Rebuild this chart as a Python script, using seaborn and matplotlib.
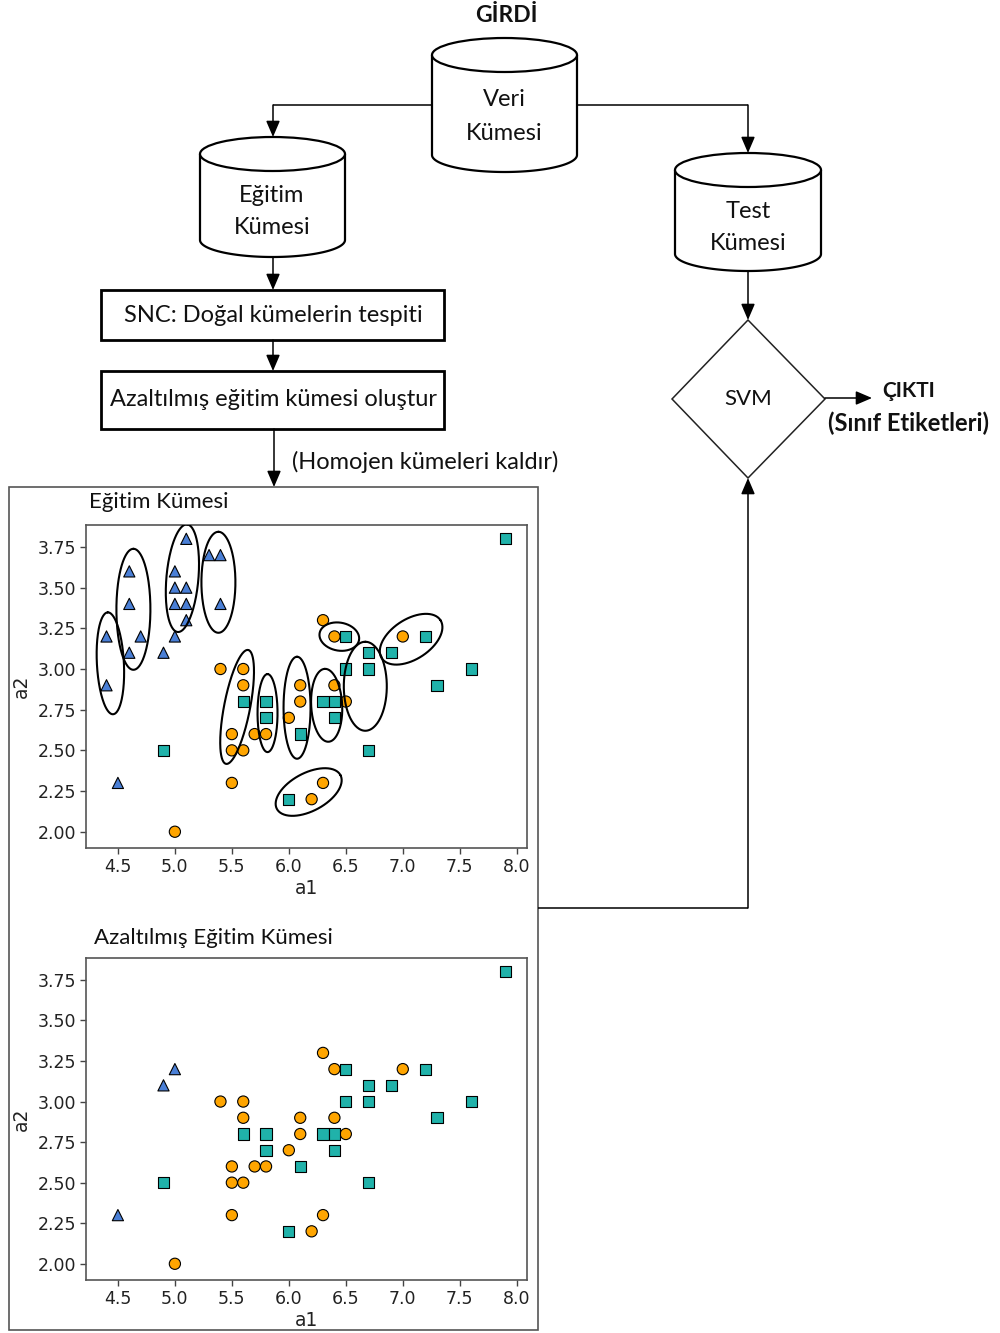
import numpy as np
import pandas as pd
import matplotlib
matplotlib.use("Agg")
import matplotlib.pyplot as plt
from matplotlib.patches import Ellipse, Rectangle, Polygon
from matplotlib.ticker import FormatStrFormatter
import seaborn as sns

# ---- training set (a1, a2) per class ----
setosa_a1 = [5.1, 5.3, 5.4, 5.4, 4.6, 4.6, 5.0, 5.0, 5.1, 5.0, 5.1, 5.1, 4.4, 4.7, 5.0, 4.6, 4.9, 4.4, 4.5]
setosa_a2 = [3.8, 3.7, 3.7, 3.4, 3.6, 3.4, 3.6, 3.5, 3.5, 3.4, 3.4, 3.3, 3.2, 3.2, 3.2, 3.1, 3.1, 2.9, 2.3]
# which setosa samples survive the removal of homogeneous clusters
setosa_kept = [False, False, False, False, False, False, False, False, False, False,
               False, False, False, False, True, False, True, False, True]

versicolor_a1 = [5.4, 5.6, 5.6, 6.1, 6.4, 6.1, 6.5, 6.0, 5.5, 5.7, 5.8, 5.5, 5.6, 5.5, 6.3, 6.2, 5.0, 6.3, 6.4, 7.0]
versicolor_a2 = [3.0, 3.0, 2.9, 2.9, 2.9, 2.8, 2.8, 2.7, 2.6, 2.6, 2.6, 2.5, 2.5, 2.3, 2.3, 2.2, 2.0, 3.3, 3.2, 3.2]

virginica_a1 = [7.9, 6.5, 7.2, 6.7, 6.9, 6.5, 6.7, 7.6, 7.3, 5.6, 5.8, 6.3, 6.4, 5.8, 6.4, 6.1, 4.9, 6.7, 6.0]
virginica_a2 = [3.8, 3.2, 3.2, 3.1, 3.1, 3.0, 3.0, 3.0, 2.9, 2.8, 2.8, 2.8, 2.8, 2.7, 2.7, 2.6, 2.5, 2.5, 2.2]

x_ticks = [4.5, 5.0, 5.5, 6.0, 6.5, 7.0, 7.5, 8.0]
y_ticks = [2.00, 2.25, 2.50, 2.75, 3.00, 3.25, 3.50, 3.75]

# natural clusters found by SNC: centre (a1, a2), long axis px, short axis px, tilt deg
clusters = [
    (4.434, 3.035, 102, 27, 93),
    (4.636, 3.367, 121, 34, 90),
    (5.066, 3.558, 108, 32, 85),
    (5.382, 3.533, 101, 34, 90),
    (5.546, 2.767, 116, 26, 79),
    (5.813, 2.729, 78, 20, 90),
    (6.072, 2.762, 102, 27, 90),
    (6.332, 2.777, 73, 31, 93),
    (6.671, 2.894, 89, 43, 90),
    (6.443, 3.199, 40, 28, -10),
    (7.073, 3.183, 70, 40, 33),
    (6.174, 2.244, 72, 38, 28),
]

PALETTE = {"setosa": "#4a7fd6", "versicolor": "#ffa500", "virginica": "#20b2aa"}
MARKERS = {"setosa": "^", "versicolor": "o", "virginica": "s"}

full = pd.concat([
    pd.DataFrame({"a1": setosa_a1, "a2": setosa_a2, "sinif": "setosa", "kept": setosa_kept}),
    pd.DataFrame({"a1": versicolor_a1, "a2": versicolor_a2, "sinif": "versicolor", "kept": True}),
    pd.DataFrame({"a1": virginica_a1, "a2": virginica_a2, "sinif": "virginica", "kept": True}),
], ignore_index=True)
reduced = full[full["kept"]]

sns.set_theme(style="white")
plt.rcParams["font.family"] = ["DejaVu Sans"]

W, H = 1000, 1333
fig = plt.figure(figsize=(W / 100, H / 100), dpi=100)
flow = fig.add_axes([0, 0, 1, 1])
flow.set_xlim(0, W)
flow.set_ylim(H, 0)
flow.axis("off")

LW = 1.6
FONT = ["Lato", "DejaVu Sans"]


def cylinder(cx, top, bottom, w, eh):
    a, b = w / 2, eh / 2
    yt, yb = top + b, bottom - b
    t = np.linspace(0, np.pi, 80)
    xs = np.concatenate([[cx - a], cx - a * np.cos(t), [cx + a]])
    ys = np.concatenate([[yt], yb + b * np.sin(t), [yt]])
    flow.add_patch(Polygon(np.column_stack([xs, ys]), closed=False, facecolor="white",
                           edgecolor="black", lw=LW, zorder=2))
    flow.add_patch(Ellipse((cx, yt), w, eh, facecolor="white", edgecolor="black", lw=LW, zorder=3))


def arrow(points, lw=1.1):
    pts = np.asarray(points, dtype=float)
    if len(pts) > 2:
        flow.plot(pts[:-1, 0], pts[:-1, 1], color="black", lw=lw, zorder=1,
                  solid_capstyle="butt")
    flow.annotate("", xy=pts[-1], xytext=pts[-2],
                  arrowprops=dict(arrowstyle="-|>,head_length=0.7,head_width=0.3",
                                  mutation_scale=14, lw=lw, color="black",
                                  shrinkA=0, shrinkB=0), zorder=1)


def label(x, y, s, size=17, ha="center", weight="normal"):
    flow.text(x, y, s, ha=ha, va="center", fontsize=size, family=FONT,
              fontweight=weight, color="#111111", zorder=5)


# input data set and split
label(506, 16, "GİRDİ", size=16.5, weight="bold")
cylinder(504.5, 38, 172, 145, 34)
label(504, 100, "Veri")
label(504, 133, "Kümesi")
arrow([(432, 105), (273, 105), (273, 137)])
arrow([(577, 105), (748, 105), (748, 153)])

cylinder(272.5, 137, 257, 145, 34)
label(272, 195, "Eğitim")
label(272, 228, "Kümesi")

cylinder(748, 153, 271, 146, 34)
label(748, 212, "Test")
label(748, 244, "Kümesi")

# processing steps on the training set
arrow([(273, 257), (273, 290)])
flow.add_patch(Rectangle((101, 290), 343, 50, facecolor="white", edgecolor="black", lw=2.0))
label(273, 315, "SNC: Doğal kümelerin tespiti")
arrow([(273, 340), (273, 371)])
flow.add_patch(Rectangle((101, 371), 343, 58, facecolor="white", edgecolor="black", lw=2.0))
label(273, 400, "Azaltılmış eğitim kümesi oluştur")
arrow([(274, 429), (274, 487)])
label(292, 462, "(Homojen kümeleri kaldır)", ha="left")

# classifier
arrow([(748, 271), (748, 320)])
flow.add_patch(Polygon([(748, 320), (825, 399), (748, 478), (672, 399)], closed=True,
                       facecolor="white", edgecolor="#222222", lw=1.1))
label(748, 399, "SVM", size=16)
arrow([(825, 398), (872, 398)])
label(882, 391, "ÇIKTI", size=15, ha="left", weight="bold")
label(908, 423, "(Sınıf Etiketleri)", size=17, weight="bold")
arrow([(538, 908), (748, 908), (748, 478)])

# panel holding both scatter plots
flow.add_patch(Rectangle((9, 487), 529, 843, facecolor="white", edgecolor="#555555", lw=1.2, zorder=0.5))
label(89, 502, "Eğitim Kümesi", ha="left", size=16)
label(94, 938, "Azaltılmış Eğitim Kümesi", ha="left", size=16)


def draw_cluster(ax, cx, cy, major, minor, angle):
    c = ax.transData.transform((cx, cy))
    t = np.linspace(0, 2 * np.pi, 200)
    th = np.deg2rad(angle)
    a, b = major / 2, minor / 2
    px = c[0] + a * np.cos(t) * np.cos(th) - b * np.sin(t) * np.sin(th)
    py = c[1] + a * np.cos(t) * np.sin(th) + b * np.sin(t) * np.cos(th)
    pts = ax.transData.inverted().transform(np.column_stack([px, py]))
    ax.plot(pts[:, 0], pts[:, 1], color="black", lw=1.5, zorder=4)


def panel(rect, data, with_clusters):
    ax = fig.add_axes(rect)
    sns.scatterplot(data=data, x="a1", y="a2", hue="sinif", style="sinif",
                    palette=PALETTE, markers=MARKERS, s=65, edgecolor="black",
                    linewidth=0.8, legend=False, ax=ax, zorder=3)
    ax.set_xlim(4.22, 8.09)
    ax.set_ylim(1.90, 3.885)
    ax.set_xticks(x_ticks)
    ax.set_yticks(y_ticks)
    ax.xaxis.set_major_formatter(FormatStrFormatter("%.1f"))
    ax.yaxis.set_major_formatter(FormatStrFormatter("%.2f"))
    ax.tick_params(axis="both", which="major", direction="out", length=4, width=1,
                   color="#444444", labelsize=12.5, labelcolor="#222222", pad=3,
                   bottom=True, left=True)
    ax.set_xlabel("a1", fontsize=13.5, color="#222222", labelpad=2)
    ax.set_ylabel("a2", fontsize=13.5, color="#222222", labelpad=5)
    for sp in ax.spines.values():
        sp.set_color("#555555")
        sp.set_linewidth(1.2)
    ax.set_facecolor("white")
    if with_clusters:
        fig.canvas.draw()
        for cx, cy, ma, mi, ang in clusters:
            draw_cluster(ax, cx, cy, ma, mi, ang)
    return ax


panel([86 / W, 1 - 848 / H, 441 / W, 323 / H], full, True)
panel([86 / W, 1 - 1280 / H, 441 / W, 322 / H], reduced, False)

fig.savefig("out.png", dpi=100, facecolor="white")
